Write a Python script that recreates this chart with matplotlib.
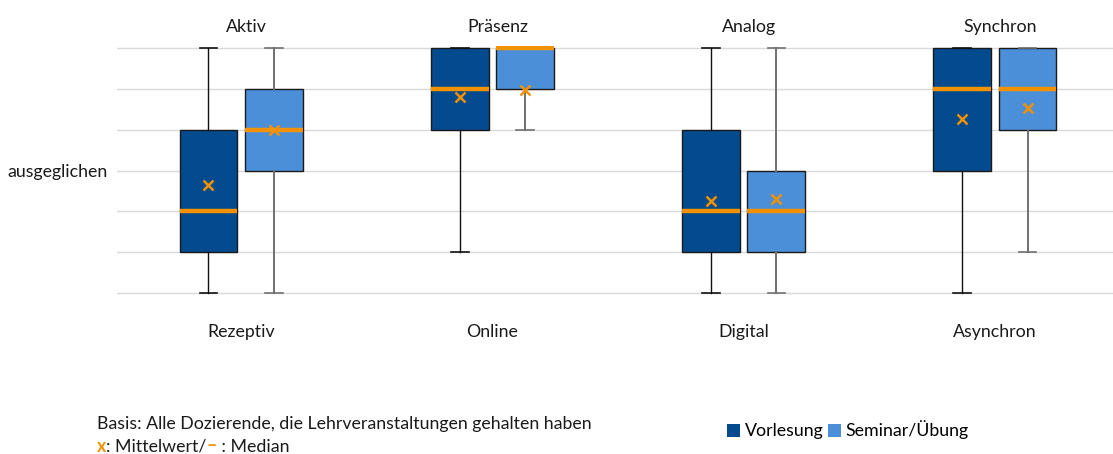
import matplotlib
matplotlib.use("Agg")
import matplotlib.pyplot as plt
from matplotlib.patches import Patch
from matplotlib.offsetbox import TextArea, HPacker, AnchoredOffsetbox

plt.rcParams['font.family'] = ['Lato', 'DejaVu Sans']

top_labels = ["Aktiv", "Präsenz", "Analog", "Synchron"]
bottom_labels = ["Rezeptiv", "Online", "Digital", "Asynchron"]
series = ["Vorlesung", "Seminar/Übung"]

# five-number summaries + mean per group: (whislo, q1, med, q3, whishi, mean)
vorlesung = [
    (-3, -2, -1, 1, 3, -0.35),
    (-2, 1, 2, 3, 3, 1.81),
    (-3, -2, -1, 1, 3, -0.74),
    (-3, 0, 2, 3, 3, 1.26),
]
seminar = [
    (-3, 0, 1, 2, 3, 1.0),
    (1, 2, 3, 3, 3, 1.97),
    (-3, -2, -1, 0, 3, -0.69),
    (-2, 1, 2, 3, 3, 1.54),
]

colors = ["#034A8F", "#4C8FD9"]
whisker_colors = ["#111111", "#707070"]
whisker_widths = [1.0, 1.4]
orange = "#F39200"
FS = 12.8

fig = plt.figure(figsize=(11.13, 4.54), dpi=100)
ax = fig.add_axes([117/1113, 159/454, 1 - 117/1113, 249/454])

offsets = [-0.13, 0.13]
width = 0.23
for s, data in enumerate([vorlesung, seminar]):
    stats = []
    for d in data:
        stats.append(dict(whislo=d[0], q1=d[1], med=d[2], q3=d[3], whishi=d[4], mean=d[5]))
    pos = [i + offsets[s] for i in range(len(data))]
    ax.bxp(stats, positions=pos, widths=width, patch_artist=True, showmeans=True,
           showfliers=False,
           boxprops=dict(facecolor=colors[s], edgecolor="#1a1a1a", linewidth=1.0),
           medianprops=dict(color=orange, linewidth=3.2, solid_capstyle='butt'),
           meanprops=dict(marker='x', markeredgecolor=orange, markersize=7, markeredgewidth=1.8),
           whiskerprops=dict(color=whisker_colors[s], linewidth=whisker_widths[s]),
           capprops=dict(color=whisker_colors[s], linewidth=1.2),
           capwidths=0.07, zorder=3)

for yv in range(-3, 4):
    ax.axhline(yv, color="#d9d9d9", linewidth=1.0, zorder=0)

ax.set_xlim(-0.494, 3.47)
ax.set_ylim(-3.05, 3.05)
for sp in ax.spines.values():
    sp.set_visible(False)
ax.set_xticks([])
ax.set_yticks([0])
ax.set_yticklabels(["ausgeglichen"], fontsize=FS, color="#1a1a1a")
ax.tick_params(axis='y', length=0, pad=7)

for i, (t, b) in enumerate(zip(top_labels, bottom_labels)):
    ax.text(i + 0.02, 3.33, t, ha='center', va='bottom', fontsize=FS, color="#1a1a1a")
    ax.text(i, -3.75, b, ha='center', va='top', fontsize=FS, color="#1a1a1a")

fig.text(97/1113, 1 - 424/454, "Basis: Alle Dozierende, die Lehrveranstaltungen gehalten haben",
         ha='left', va='center', fontsize=FS, color="#1a1a1a")

parts = [TextArea("x", textprops=dict(color=orange, fontsize=FS, fontweight='bold')),
         TextArea(": Mittelwert/", textprops=dict(color="#1a1a1a", fontsize=FS)),
         TextArea("–", textprops=dict(color=orange, fontsize=FS, fontweight='bold')),
         TextArea(" : Median", textprops=dict(color="#1a1a1a", fontsize=FS))]
box = HPacker(children=parts, align="baseline", pad=0, sep=0)
anch = AnchoredOffsetbox(loc='center left', child=box, pad=0, frameon=False,
                         bbox_to_anchor=(97/1113, 1 - 446/454), bbox_transform=fig.transFigure,
                         borderpad=0)
fig.add_artist(anch)

handles = [Patch(facecolor=colors[0], edgecolor='none'), Patch(facecolor=colors[1], edgecolor='none')]
fig.legend(handles, series, loc='center left', bbox_to_anchor=(727/1113, 1 - 430/454),
           ncol=2, frameon=False, fontsize=FS, handlelength=0.75, handleheight=0.75,
           handletextpad=0.25, columnspacing=0.25, borderaxespad=0, borderpad=0)

fig.savefig("out.png", dpi=100)
